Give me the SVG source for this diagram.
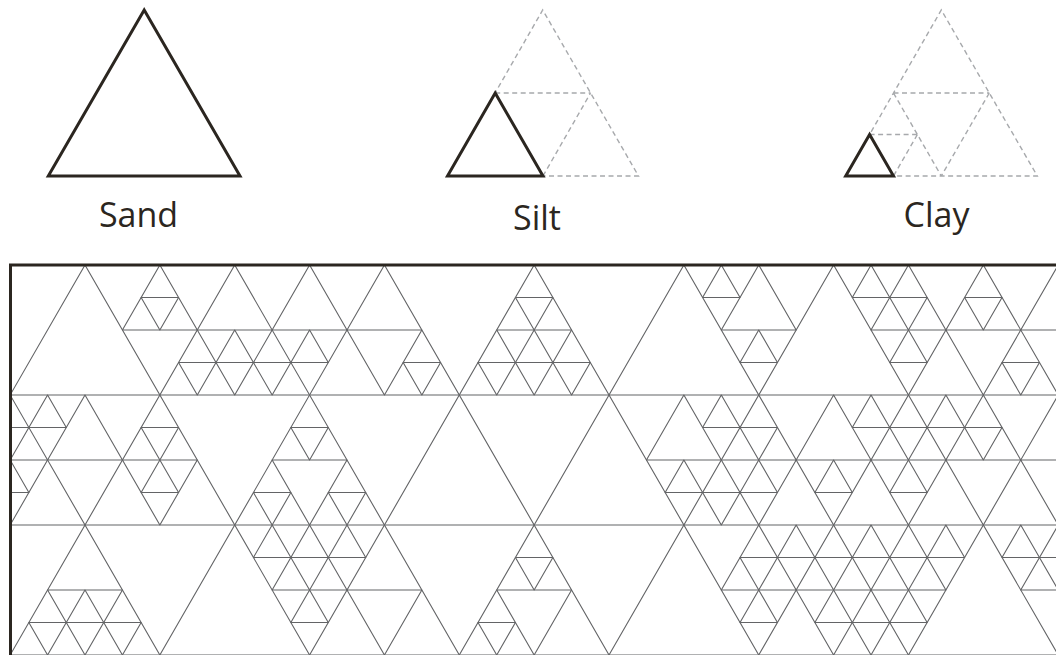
<svg xmlns="http://www.w3.org/2000/svg" width="1056" height="655" viewBox="0 0 1056 655">
<defs>
<style>
.lg{fill:none;stroke:#2b2620;stroke-width:3;stroke-linejoin:miter}
.ds{fill:none;stroke:#a7a9ac;stroke-width:1.4;stroke-dasharray:5 3.5}
.lbl{font-family:"Open Sans","Liberation Sans",sans-serif;font-size:34px;fill:#2b2620;text-anchor:middle}
#lat path,#lat polygon{fill:none;stroke:#636466;stroke-width:1.1;vector-effect:non-scaling-stroke;stroke-linejoin:round}
.bd{fill:none;stroke:#2b2620;stroke-width:3}
</style>
<clipPath id="box"><rect x="10" y="265" width="1046" height="390"/></clipPath>
</defs>
<rect width="1056" height="655" fill="#ffffff"/>
<g id="sand">
<polygon class="lg" points="144.2,10 240,176 48.3,176"/>
<text class="lbl" x="138.5" y="227">Sand</text>
</g>
<g id="silt">
<path class="ds" d="M447.5,176 L542.7,10 L638.5,176 Z M495.2,93 H590.6 M543,176 L590.6,93"/>
<polygon class="lg" points="495.2,93 543,176 447.5,176"/>
<text class="lbl" x="537" y="229.5">Silt</text>
</g>
<g id="clay">
<path class="ds" d="M845.7,176 L941.3,10 L1037.3,176 Z M893.5,93 H989.3 M893.5,93 L941.3,176 M989.3,93 L941.3,176 M869.6,134.5 H917.4 M917.4,134.5 L893.5,176"/>
<polygon class="lg" points="869.6,134.5 893.5,176 845.7,176"/>
<text class="lbl" x="936.5" y="227">Clay</text>
</g>
<g id="pattern" clip-path="url(#box)">
<g id="lat" transform="matrix(18.715 0 0 32.5 10.14 265)">
<g id="grid">
<path d="M-10 4H60M-10 8H60M-10 12H60"/>
<path d="M-4 0L8 12M4 0L16 12M12 0L24 12M20 0L32 12M28 0L40 12M36 0L48 12M44 0L56 12M52 0L64 12"/>
<path d="M4 0L-8 12M12 0L0 12M20 0L8 12M28 0L16 12M36 0L24 12M44 0L32 12M52 0L40 12M60 0L48 12"/>
</g>
<g id="row1">
<polygon points="8,0 6,2 10,2"/><polygon points="7,1 9,1 8,2"/>
<polygon points="10,2 14,2 12,4"/><polygon points="9,3 11,3 10,4"/><polygon points="13,3 15,3 14,4"/><polygon points="12,2 11,3 13,3"/>
<polygon points="16,0 14,2 18,2"/><polygon points="16,2 15,3 17,3"/>
<polygon points="18,2 22,2 20,4"/><polygon points="21,3 23,3 22,4"/>
<polygon points="26,2 30,2 28,4"/><polygon points="27,1 29,1 28,2"/><polygon points="25,3 27,3 26,4"/><polygon points="29,3 31,3 30,4"/><polygon points="28,2 27,3 29,3"/>
<polygon points="40,0 38,2 42,2"/><polygon points="38,0 37,1 39,1"/><polygon points="40,2 39,3 41,3"/>
<polygon points="48,0 46,2 50,2"/><polygon points="46,0 45,1 47,1"/><polygon points="47,1 49,1 48,2"/><polygon points="48,2 47,3 49,3"/>
<polygon points="50,2 54,2 52,4"/><polygon points="51,1 53,1 52,2"/><polygon points="53,3 55,3 54,4"/>
<polygon points="56,0 54,2 58,2"/>
</g>
<g id="row2">
<polygon points="-2,6 2,6 0,8"/><polygon points="-1,5 1,5 0,6"/><polygon points="0,6 -1,7 1,7"/>
<polygon points="4,4 2,6 6,6"/><polygon points="2,4 1,5 3,5"/>
<polygon points="6,6 10,6 8,8"/><polygon points="7,5 9,5 8,6"/><polygon points="8,6 7,7 9,7"/>
<polygon points="14,6 18,6 16,8"/><polygon points="15,5 17,5 16,6"/><polygon points="13,7 15,7 14,8"/><polygon points="17,7 19,7 18,8"/>
<polygon points="36,4 34,6 38,6"/><polygon points="38,4 37,5 39,5"/><polygon points="36,6 35,7 37,7"/>
<polygon points="38,6 42,6 40,8"/><polygon points="39,5 41,5 40,6"/><polygon points="37,7 39,7 38,8"/><polygon points="40,6 39,7 41,7"/>
<polygon points="44,4 42,6 46,6"/><polygon points="46,4 45,5 47,5"/><polygon points="44,6 43,7 45,7"/>
<polygon points="46,6 50,6 48,8"/><polygon points="47,5 49,5 48,6"/><polygon points="48,6 47,7 49,7"/>
<polygon points="52,4 50,6 54,6"/><polygon points="50,4 49,5 51,5"/><polygon points="51,5 53,5 52,6"/>
<polygon points="54,6 58,6 56,8"/>
</g>
<g id="row3">
<polygon points="2,10 6,10 4,12"/><polygon points="1,11 3,11 2,12"/><polygon points="4,10 3,11 5,11"/><polygon points="5,11 7,11 6,12"/>
<polygon points="16,8 14,10 18,10"/><polygon points="14,8 13,9 15,9"/><polygon points="18,8 17,9 19,9"/><polygon points="15,9 17,9 16,10"/><polygon points="16,10 15,11 17,11"/>
<polygon points="18,10 22,10 20,12"/>
<polygon points="26,10 30,10 28,12"/><polygon points="27,9 29,9 28,10"/><polygon points="25,11 27,11 26,12"/>
<polygon points="40,8 38,10 42,10"/><polygon points="39,9 41,9 40,10"/><polygon points="42,8 41,9 43,9"/><polygon points="40,10 39,11 41,11"/>
<polygon points="42,10 46,10 44,12"/><polygon points="43,9 45,9 44,10"/><polygon points="44,10 43,11 45,11"/><polygon points="45,11 47,11 46,12"/>
<polygon points="48,8 46,10 50,10"/><polygon points="46,8 45,9 47,9"/><polygon points="47,9 49,9 48,10"/><polygon points="50,8 49,9 51,9"/><polygon points="48,10 47,11 49,11"/>
<polygon points="56,8 54,10 58,10"/><polygon points="54,8 53,9 55,9"/><polygon points="55,9 57,9 56,10"/>
</g>
</g>
</g>
<path id="frame" class="bd" d="M10.5,655 V265 H1056"/>
</svg>
